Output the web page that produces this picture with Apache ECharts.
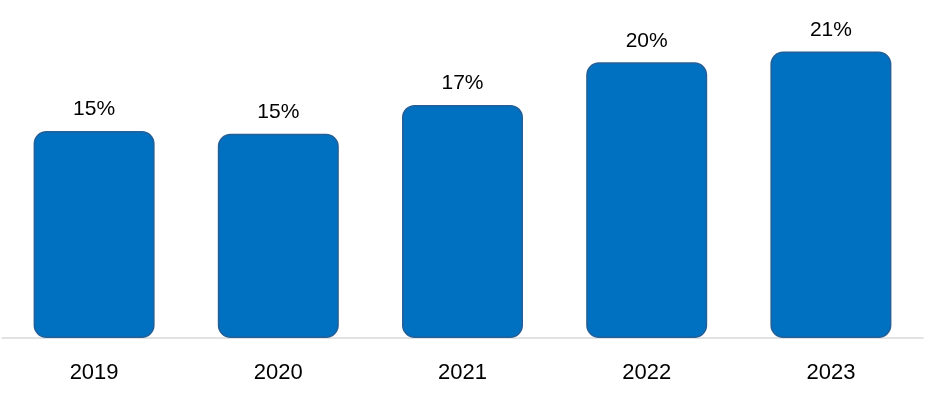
<!DOCTYPE html>
<html><head><meta charset="utf-8">
<script src="https://cdn.jsdelivr.net/npm/echarts@6/dist/echarts.min.js"></script>
<style>html,body{margin:0;padding:0;background:#fff}#c{width:931px;height:399px}</style>
</head><body><div id="c"></div>
<script>
const years = ['2019','2020','2021','2022','2023'];
const shares = [15.1, 14.9, 17.0, 20.1, 20.9];
const chart = echarts.init(document.getElementById('c'));
chart.setOption({
  animation:false,
  grid:{left:2,right:8,top:13,bottom:61,containLabel:false},
  xAxis:{type:'category',data:years,
    axisLine:{lineStyle:{color:'#D9D9D9',width:1.5}},axisTick:{show:false},
    axisLabel:{color:'#000',fontSize:22,fontFamily:'Liberation Sans, Arial',margin:24}},
  yAxis:{type:'value',min:0,max:23.7,show:false,splitLine:{show:false}},
  series:[{type:'bar',data:shares,barWidth:121,
    itemStyle:{color:'#0070C0',borderColor:'#245F97',borderWidth:1.5,borderRadius:12},
    label:{show:true,position:'top',distance:11,color:'#000',fontSize:21,fontFamily:'Liberation Sans, Arial',
      formatter:p=>Math.round(p.value)+'%'}}]
});
</script></body></html>
